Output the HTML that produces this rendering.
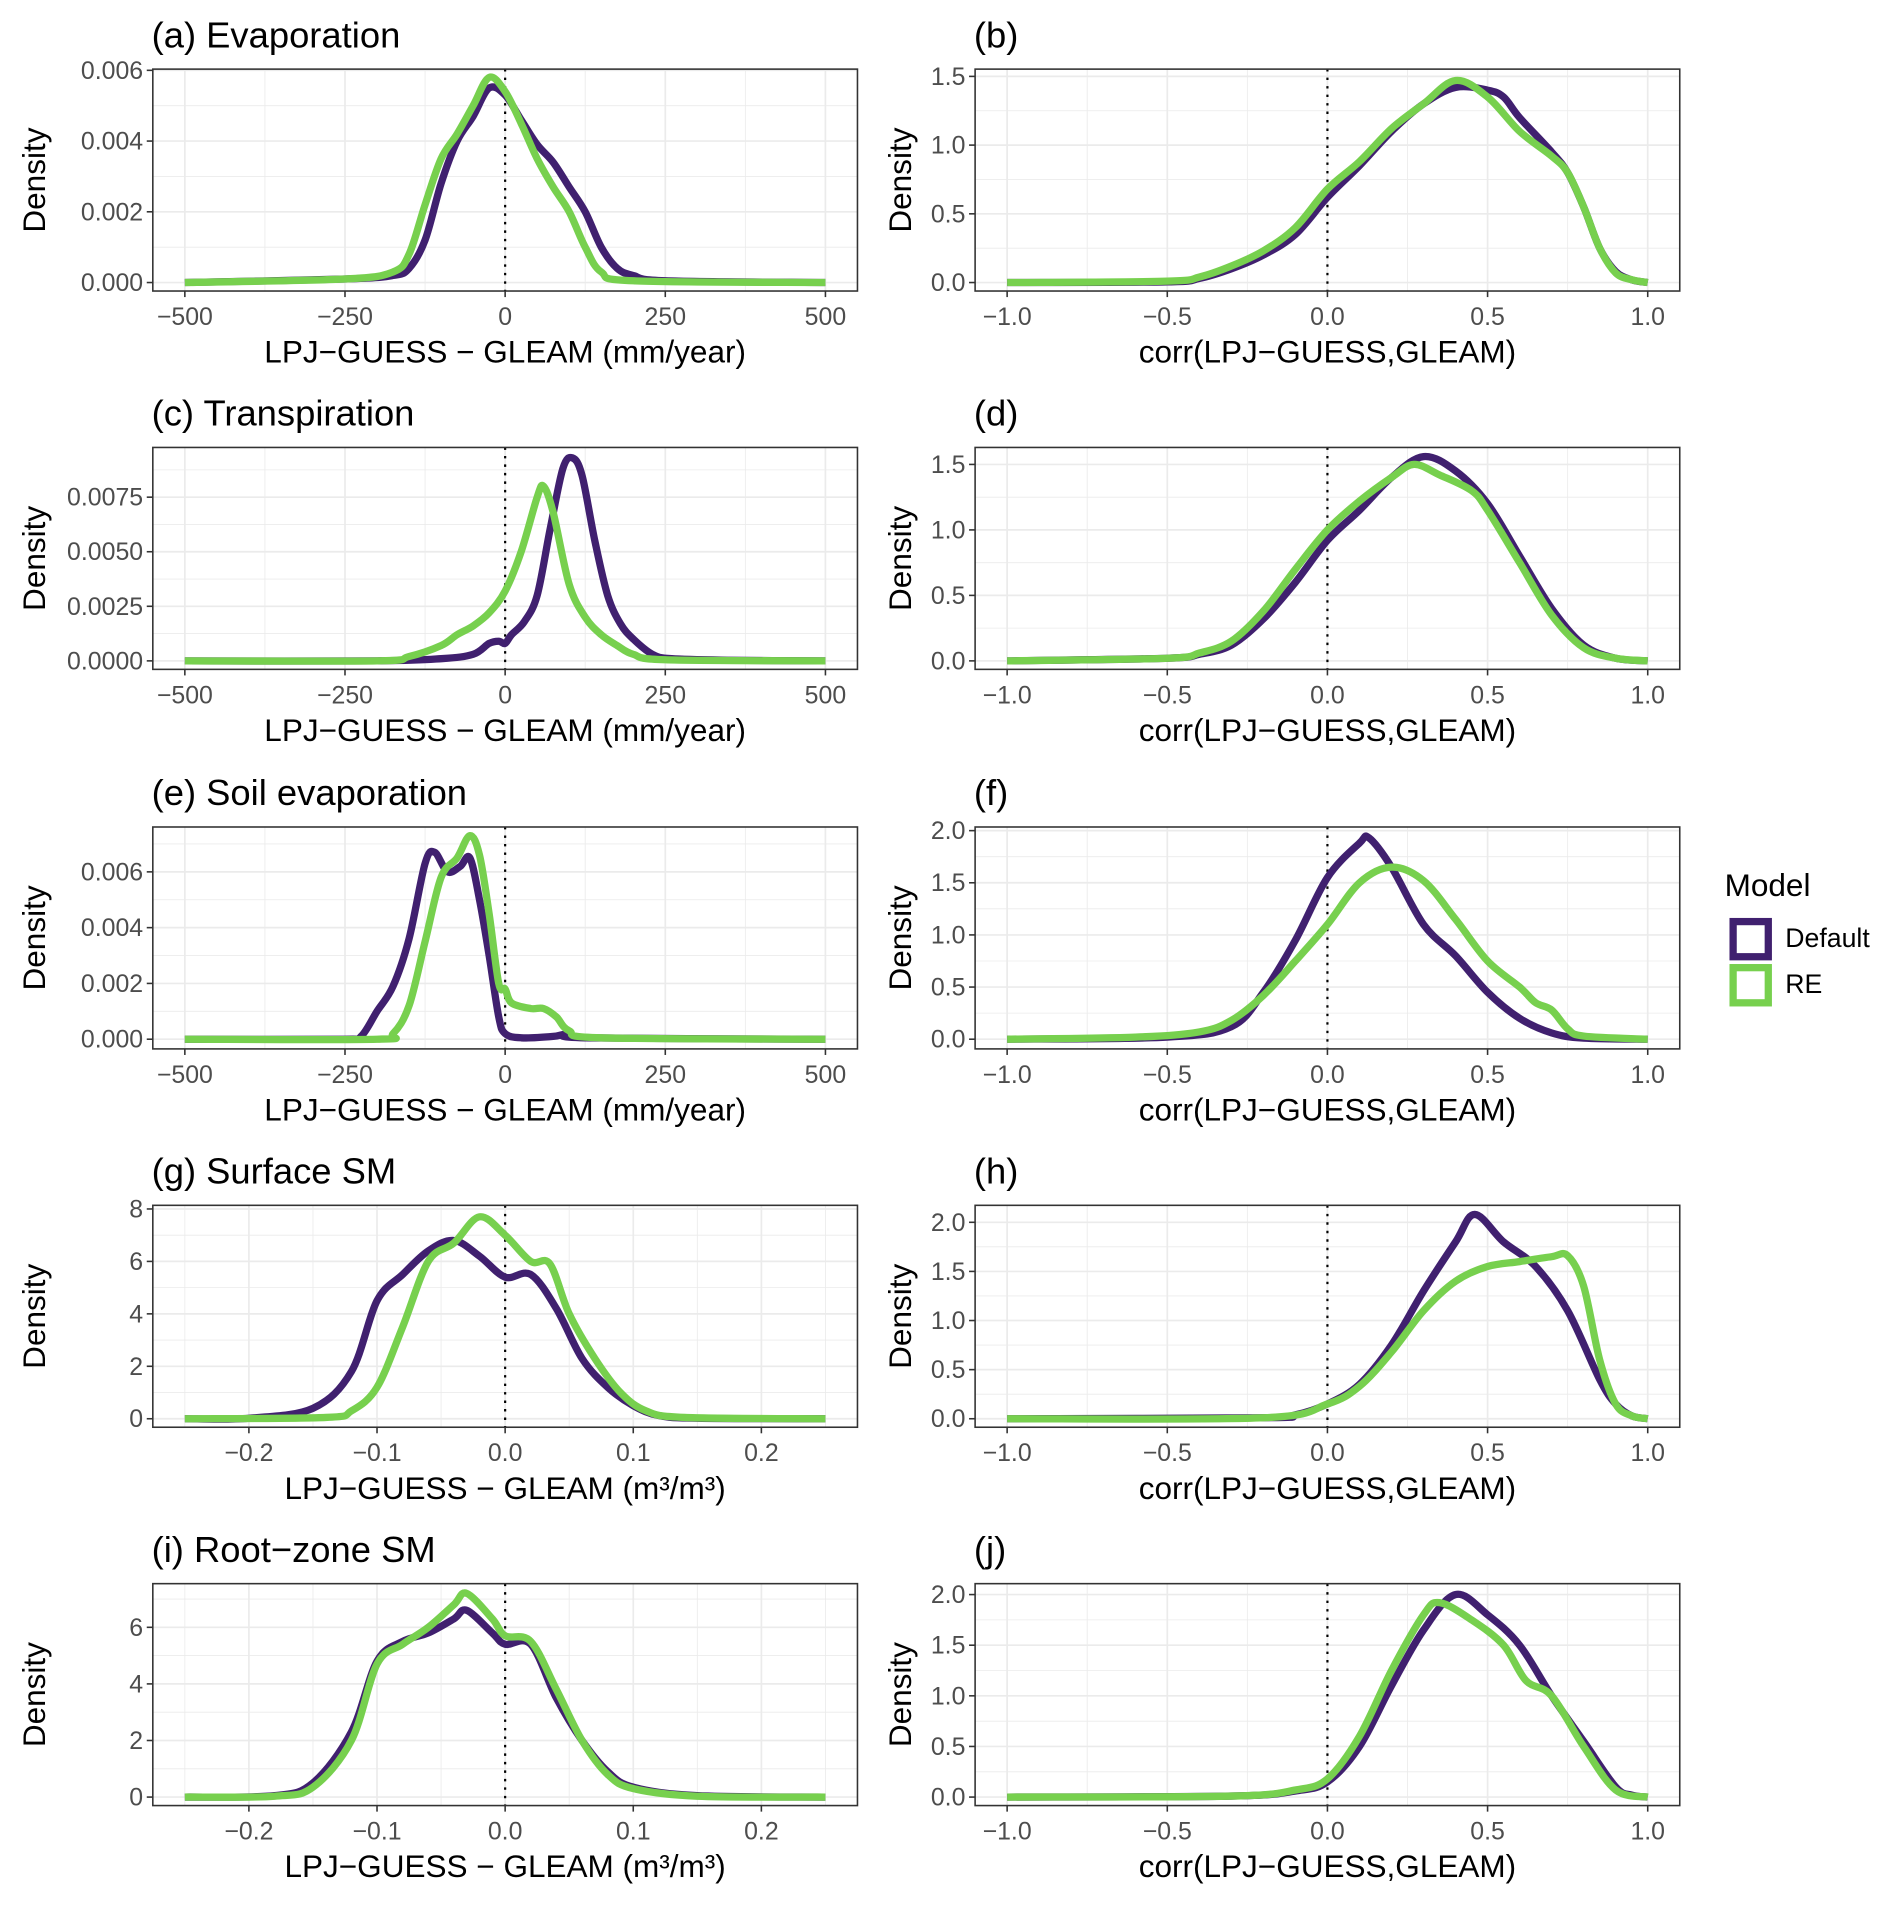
<!DOCTYPE html>
<html><head><meta charset="utf-8"><style>
html,body{margin:0;padding:0;background:#fff;}
svg{display:block;font-family:"Liberation Sans",Arial,sans-serif;}
</style></head><body>
<svg id="fig" width="1892" height="1905" viewBox="0 0 1560 1571" preserveAspectRatio="none" xmlns="http://www.w3.org/2000/svg">
<g id="legend">
<text x="1422" y="739" font-size="26" fill="#000">Model</text>
<rect x="1429" y="760" width="29" height="29" fill="none" stroke="#40206f" stroke-width="6"/>
<text x="1472" y="781" font-size="22" fill="#000">Default</text>
<rect x="1429" y="798" width="29" height="29" fill="none" stroke="#77d04e" stroke-width="6"/>
<text x="1472" y="819" font-size="22" fill="#000">RE</text>
</g>
</svg>
<script>
// ---- data arrays ----
const aX=[-500,-250,-175,-150,-125,-100,-75,-50,-25,0,25,50,75,100,125,150,175,200,250,500];
const aDef=[0,0.0001,0.0002,0.0004,0.0012,0.0028,0.0040,0.0047,0.0055,0.0053,0.0046,0.0039,0.0034,0.0027,0.0020,0.0010,0.0004,0.0002,0.00005,0];
const aReX=[-500,-250,-175,-150,-125,-100,-75,-50,-25,0,25,50,75,100,125,150,200,500];
const aRe=[0,0.0001,0.0003,0.0008,0.0022,0.0035,0.0042,0.0050,0.0058,0.0054,0.0045,0.0035,0.0027,0.0020,0.0010,0.0003,0.00005,0];

const bX=[-1,-0.5,-0.4,-0.3,-0.2,-0.1,0,0.1,0.2,0.3,0.4,0.5,0.55,0.6,0.7,0.75,0.8,0.85,0.9,0.95,1];
const bDef=[0,0.005,0.03,0.1,0.2,0.35,0.62,0.85,1.1,1.3,1.42,1.4,1.35,1.2,0.95,0.8,0.55,0.25,0.08,0.02,0];
const bReX=[-1,-0.5,-0.4,-0.3,-0.2,-0.1,0,0.1,0.2,0.3,0.4,0.5,0.6,0.7,0.75,0.8,0.85,0.9,0.95,1];
const bRe=[0,0.01,0.04,0.12,0.23,0.4,0.68,0.88,1.12,1.3,1.47,1.35,1.1,0.92,0.8,0.55,0.25,0.07,0.02,0];

const cX=[-500,-200,-100,-50,-25,-10,0,10,30,50,70,90,105,120,140,160,180,200,230,260,350,500];
const cDef=[0,0,0.0001,0.0003,0.0008,0.0009,0.0008,0.0012,0.0018,0.0030,0.0060,0.0088,0.0093,0.0085,0.0055,0.0030,0.0017,0.0010,0.0003,0.0001,0.00003,0];
const cReX=[-500,-200,-150,-100,-75,-50,-25,0,25,50,60,75,100,125,150,175,200,250,500];
const cRe=[0,0,0.0002,0.0007,0.0012,0.0016,0.0022,0.0032,0.0050,0.0075,0.0080,0.0068,0.0035,0.0020,0.0012,0.0007,0.0003,0.00005,0];

const dX=[-1,-0.5,-0.4,-0.3,-0.2,-0.1,0,0.1,0.2,0.3,0.4,0.5,0.6,0.7,0.8,0.9,1];
const dDef=[0,0.02,0.05,0.12,0.32,0.6,0.92,1.15,1.4,1.56,1.45,1.2,0.8,0.4,0.12,0.02,0];
const dReX=[-1,-0.5,-0.4,-0.3,-0.2,-0.1,0,0.1,0.2,0.27,0.35,0.45,0.5,0.6,0.7,0.8,0.9,1];
const dRe=[0,0.02,0.06,0.15,0.38,0.7,1.0,1.22,1.4,1.5,1.42,1.3,1.15,0.75,0.35,0.1,0.02,0];

const eX=[-500,-250,-225,-200,-175,-150,-125,-110,-90,-70,-55,-40,-25,-10,0,25,75,100,125,500];
const eDef=[0,0,0.0001,0.0010,0.0019,0.0036,0.0063,0.0067,0.0060,0.0062,0.0065,0.0050,0.0030,0.0008,0.0002,0.00005,0.0001,0.0002,0.00005,0];
const eReX=[-500,-200,-175,-150,-125,-100,-75,-55,-40,-25,-10,0,10,40,60,80,100,150,500];
const eRe=[0,0,0.0002,0.0012,0.0035,0.0058,0.0065,0.0073,0.0066,0.0045,0.0020,0.0018,0.0013,0.0011,0.0011,0.0008,0.0003,0.00005,0];

const fX=[-1,-0.5,-0.3,-0.2,-0.1,0,0.1,0.13,0.2,0.3,0.4,0.5,0.6,0.7,0.8,1];
const fDef=[0,0.02,0.12,0.45,0.95,1.55,1.88,1.93,1.65,1.1,0.8,0.45,0.2,0.06,0.01,0];
const fReX=[-1,-0.6,-0.4,-0.3,-0.2,-0.1,0,0.1,0.2,0.3,0.4,0.5,0.6,0.65,0.7,0.75,0.8,1];
const fRe=[0,0.02,0.07,0.18,0.42,0.75,1.1,1.5,1.65,1.52,1.15,0.75,0.5,0.35,0.28,0.1,0.03,0];

const gX=[-0.25,-0.2,-0.15,-0.12,-0.1,-0.08,-0.06,-0.04,-0.02,0,0.02,0.04,0.06,0.08,0.1,0.12,0.15,0.25];
const gDef=[0,0.02,0.4,1.8,4.5,5.5,6.4,6.8,6.2,5.4,5.5,4.2,2.3,1.2,0.5,0.12,0.02,0];
const gReX=[-0.25,-0.14,-0.12,-0.1,-0.08,-0.06,-0.04,-0.02,0,0.02,0.035,0.05,0.07,0.09,0.11,0.14,0.25];
const gRe=[0,0.05,0.3,1.2,3.5,6,6.7,7.7,7.0,6.0,5.9,4.0,2.3,1.0,0.3,0.05,0];

const hX=[-1,-0.2,-0.1,0,0.1,0.2,0.3,0.4,0.46,0.55,0.65,0.75,0.85,0.9,0.95,1];
const hDef=[0,0.01,0.04,0.15,0.35,0.75,1.3,1.8,2.08,1.8,1.55,1.1,0.4,0.15,0.03,0];
const hReX=[-1,-0.2,0,0.1,0.2,0.3,0.4,0.5,0.6,0.7,0.75,0.8,0.85,0.9,0.95,1];
const hRe=[0,0.01,0.15,0.33,0.68,1.1,1.4,1.55,1.6,1.65,1.66,1.35,0.6,0.15,0.03,0];

const iX=[-0.25,-0.18,-0.15,-0.12,-0.1,-0.08,-0.06,-0.04,-0.03,-0.01,0,0.02,0.04,0.06,0.08,0.1,0.15,0.25];
const iDef=[0,0.05,0.5,2.3,4.8,5.5,5.8,6.3,6.6,5.8,5.4,5.4,3.5,2.0,0.9,0.35,0.05,0];
const iReX=[-0.25,-0.18,-0.15,-0.12,-0.1,-0.08,-0.06,-0.04,-0.03,-0.01,0,0.02,0.04,0.06,0.08,0.1,0.15,0.25];
const iRe=[0,0.03,0.35,2.0,4.7,5.4,6.0,6.8,7.2,6.3,5.7,5.5,3.8,2.0,0.8,0.3,0.03,0];

const jX=[-1,-0.3,-0.1,0,0.1,0.2,0.3,0.4,0.5,0.6,0.7,0.8,0.9,0.95,1];
const jDef=[0,0.01,0.06,0.15,0.5,1.1,1.65,2.0,1.8,1.5,1.0,0.55,0.1,0.02,0];
const jReX=[-1,-0.3,-0.1,0,0.1,0.2,0.3,0.35,0.45,0.55,0.62,0.7,0.8,0.9,1];
const jRe=[0,0.01,0.07,0.18,0.6,1.25,1.8,1.92,1.75,1.5,1.15,1.0,0.5,0.07,0];

const xTicksMM=[-500,-250,0,250,500];
const xLabelsMM=["\u2212500","\u2212250","0","250","500"];
const xTicksSM=[-0.2,-0.1,0,0.1,0.2];
const xLabelsSM=["\u22120.2","\u22120.1","0.0","0.1","0.2"];
const xTicksR=[-1,-0.5,0,0.5,1];
const xLabelsR=["\u22121.0","\u22120.5","0.0","0.5","1.0"];

// ---- layout ----
const NS="http://www.w3.org/2000/svg";
const svg=document.getElementById('fig');
const tops=[57,369,682,994,1306];
const H=183;
const panels=[
 {id:'a',title:'(a) Evaporation',col:0,row:0,xd:[-550,550],xt:xTicksMM,xl:xLabelsMM,xtitle:'LPJ\u2212GUESS \u2212 GLEAM (mm/year)',yt:[0,0.002,0.004,0.006],yl:['0.000','0.002','0.004','0.006'],y0:233,yTop:58,s:[[aX,aDef],[aReX,aRe]]},
 {id:'b',title:'(b)',col:1,row:0,xd:[-1.1,1.1],xt:xTicksR,xl:xLabelsR,xtitle:'corr(LPJ\u2212GUESS,GLEAM)',yt:[0,0.5,1,1.5],yl:['0.0','0.5','1.0','1.5'],y0:233,yTop:63,s:[[bX,bDef],[bReX,bRe]]},
 {id:'c',title:'(c) Transpiration',col:0,row:1,xd:[-550,550],xt:xTicksMM,xl:xLabelsMM,xtitle:'LPJ\u2212GUESS \u2212 GLEAM (mm/year)',yt:[0,0.0025,0.005,0.0075],yl:['0.0000','0.0025','0.0050','0.0075'],y0:545,yTop:410,s:[[cX,cDef],[cReX,cRe]]},
 {id:'d',title:'(d)',col:1,row:1,xd:[-1.1,1.1],xt:xTicksR,xl:xLabelsR,xtitle:'corr(LPJ\u2212GUESS,GLEAM)',yt:[0,0.5,1,1.5],yl:['0.0','0.5','1.0','1.5'],y0:545,yTop:383,s:[[dX,dDef],[dReX,dRe]]},
 {id:'e',title:'(e) Soil evaporation',col:0,row:2,xd:[-550,550],xt:xTicksMM,xl:xLabelsMM,xtitle:'LPJ\u2212GUESS \u2212 GLEAM (mm/year)',yt:[0,0.002,0.004,0.006],yl:['0.000','0.002','0.004','0.006'],y0:857,yTop:719,s:[[eX,eDef],[eReX,eRe]]},
 {id:'f',title:'(f)',col:1,row:2,xd:[-1.1,1.1],xt:xTicksR,xl:xLabelsR,xtitle:'corr(LPJ\u2212GUESS,GLEAM)',yt:[0,0.5,1,1.5,2],yl:['0.0','0.5','1.0','1.5','2.0'],y0:857,yTop:685,s:[[fX,fDef],[fReX,fRe]]},
 {id:'g',title:'(g) Surface SM',col:0,row:3,xd:[-0.275,0.275],xt:xTicksSM,xl:xLabelsSM,xtitle:'LPJ\u2212GUESS \u2212 GLEAM (m\u00b3/m\u00b3)',yt:[0,2,4,6,8],yl:['0','2','4','6','8'],y0:1170,yTop:997,s:[[gX,gDef],[gReX,gRe]]},
 {id:'h',title:'(h)',col:1,row:3,xd:[-1.1,1.1],xt:xTicksR,xl:xLabelsR,xtitle:'corr(LPJ\u2212GUESS,GLEAM)',yt:[0,0.5,1,1.5,2],yl:['0.0','0.5','1.0','1.5','2.0'],y0:1170,yTop:1008,s:[[hX,hDef],[hReX,hRe]]},
 {id:'i',title:'(i) Root\u2212zone SM',col:0,row:4,xd:[-0.275,0.275],xt:xTicksSM,xl:xLabelsSM,xtitle:'LPJ\u2212GUESS \u2212 GLEAM (m\u00b3/m\u00b3)',yt:[0,2,4,6],yl:['0','2','4','6'],y0:1482,yTop:1342,s:[[iX,iDef],[iReX,iRe]]},
 {id:'j',title:'(j)',col:1,row:4,xd:[-1.1,1.1],xt:xTicksR,xl:xLabelsR,xtitle:'corr(LPJ\u2212GUESS,GLEAM)',yt:[0,0.5,1,1.5,2],yl:['0.0','0.5','1.0','1.5','2.0'],y0:1482,yTop:1315,s:[[jX,jDef],[jReX,jRe]]}
];
const colors=['#40206f','#77d04e'];
function mk(tag,attrs,parent){const e=document.createElementNS(NS,tag);for(const k in attrs)e.setAttribute(k,attrs[k]);(parent||svg).appendChild(e);return e;}
function smooth(pts){let d='M'+pts[0][0]+','+pts[0][1];for(let i=0;i<pts.length-1;i++){const p0=pts[i-1]||pts[i],p1=pts[i],p2=pts[i+1],p3=pts[i+2]||p2;const c1=[p1[0]+(p2[0]-p0[0])/6,p1[1]+(p2[1]-p0[1])/6];const c2=[p2[0]-(p3[0]-p1[0])/6,p2[1]-(p3[1]-p1[1])/6];d+=' C'+c1[0].toFixed(2)+','+c1[1].toFixed(2)+' '+c2[0].toFixed(2)+','+c2[1].toFixed(2)+' '+p2[0].toFixed(2)+','+p2[1].toFixed(2);}return d;}

panels.forEach(p=>{
 const L=p.col?804:126, R=L+581, T=tops[p.row], B=T+H;
 const xs=v=>L+(v-p.xd[0])/(p.xd[1]-p.xd[0])*(R-L);
 const ytop=p.yt[p.yt.length-1];
 const ys=v=>p.y0+(v/ytop)*(p.yTop-p.y0);
 const g=mk('g',{});
 
 
 mk('rect',{x:L,y:T,width:581,height:H,fill:'#fff'},g);
 const xstep=p.xt[1]-p.xt[0];
 for(let k=-1;k<p.xt.length;k++){const v=p.xt[0]+xstep*(k+0.5);const px=xs(v);if(px>L&&px<R)mk('line',{x1:px,x2:px,y1:T,y2:B,stroke:'#ebebeb','stroke-width':0.7},g);}
 const ystep=p.yt[1]-p.yt[0];
 for(let k=-1;k<p.yt.length;k++){const v=p.yt[0]+ystep*(k+0.5);const py=ys(v);if(py>T&&py<B)mk('line',{x1:L,x2:R,y1:py,y2:py,stroke:'#ebebeb','stroke-width':0.7},g);}
 p.xt.forEach(v=>mk('line',{x1:xs(v),x2:xs(v),y1:T,y2:B,stroke:'#ebebeb','stroke-width':1.4},g));
 p.yt.forEach(v=>mk('line',{x1:L,x2:R,y1:ys(v),y2:ys(v),stroke:'#ebebeb','stroke-width':1.4},g));
 const zl=mk('line',{x1:xs(0),x2:xs(0),y1:T,y2:B,stroke:'#000','stroke-width':1.8,'stroke-dasharray':'2 5'},g);
 
 
 p.s.forEach((sr,si)=>{
  const pts=sr[0].map((x,i)=>[xs(x),ys(sr[1][i])]);
  const path=mk('path',{d:smooth(pts),fill:'none',stroke:colors[si],'stroke-width':6,'stroke-linejoin':'round','stroke-linecap':'butt'},g);
  
  
 });
 mk('rect',{x:L,y:T,width:581,height:H,fill:'none',stroke:'#333','stroke-width':1.3},g);
 p.xt.forEach((v,i)=>{mk('line',{x1:xs(v),x2:xs(v),y1:B,y2:B+5,stroke:'#333','stroke-width':1.3},g);
  const t=mk('text',{x:xs(v),y:B+28,'font-size':20.5,fill:'#4d4d4d','text-anchor':'middle'},g);t.textContent=p.xl[i];
  
  });
 p.yt.forEach((v,i)=>{mk('line',{x1:L-5,x2:L,y1:ys(v),y2:ys(v),stroke:'#333','stroke-width':1.3},g);
  const t=mk('text',{x:L-8,y:ys(v)+7,'font-size':20.5,fill:'#4d4d4d','text-anchor':'end'},g);t.textContent=p.yl[i];
  
  });
 const xt=mk('text',{x:(L+R)/2,y:B+59,'font-size':26,fill:'#000','text-anchor':'middle'},g);xt.textContent=p.xtitle;
 
 
 const yx=p.col?751:37, yy=(T+B)/2;
 const yt=mk('text',{x:yx,y:yy,'font-size':26,fill:'#000','text-anchor':'middle',transform:'rotate(-90 '+yx+' '+yy+')'},g);yt.textContent='Density';
 
 
 const tt=mk('text',{x:L-1,y:T-18,'font-size':30,fill:'#000'},g);tt.textContent=p.title;
 
 
});
svg.appendChild(document.getElementById('legend'));
</script>
</body></html>
